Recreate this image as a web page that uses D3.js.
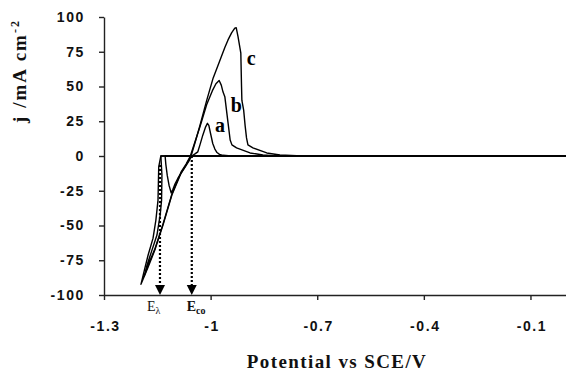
<!DOCTYPE html>
<html>
<head>
<meta charset="utf-8">
<script src="https://cdn.jsdelivr.net/npm/d3@7"></script>
<style>
  body { margin: 0; background: #fff; }
  .curve { fill: none; stroke: #000; stroke-width: 1.4px; stroke-linejoin: round; }
  .tick text { font-family: "Liberation Sans", Arial, sans-serif; font-weight: bold; font-size: 14px; letter-spacing: 1.6px; fill: #111; }
  .axis path, .axis line { stroke: #222; stroke-width: 1.4px; }
  .title { font-family: "Liberation Serif", "Times New Roman", serif; font-weight: bold; font-size: 19px; fill: #111; }
  .clabel { font-family: "Liberation Serif", "Times New Roman", serif; font-weight: bold; font-size: 20px; fill: #000; }
  .marker { font-family: "Liberation Serif", "Times New Roman", serif; font-size: 14px; fill: #111; }
</style>
</head>
<body>
<div id="chart"></div>
<script>
var margin = {top: 17, right: 0, bottom: 76, left: 104},
width = 566 - margin.left - margin.right,
height = 371 - margin.top - margin.bottom;

// cyclic voltammograms, [potential V, current density mA cm-2]
let curveA = [[0,0],[-1.128,0],[-1.126,-6],[-1.122,-14],[-1.117,-21],[-1.111,-26.5],[-1.106,-24],
  [-1.100,-20],[-1.092,-16],[-1.083,-12.3],[-1.072,-8],[-1.062,-4],[-1.053,0],[-1.044,1.5],[-1.036,3],
  [-1.030,8],[-1.022,15],[-1.014,21],[-1.009,23.5],[-1.005,22],[-1.000,16],[-0.994,9],[-0.988,5],
  [-0.982,2.5],[-0.975,1.2],[-0.965,0.5],[-0.95,0.2],[-0.93,0]]

let curveB = [[0,0],[-1.140,0],[-1.137,-13.7],[-1.138,-31.7],[-1.142,-42.5],[-1.151,-56.9],[-1.165,-67.7],
  [-1.179,-78.6],[-1.187,-86.5],[-1.176,-78.6],[-1.157,-67],[-1.134,-49],[-1.109,-27.4],[-1.083,-11.5],
  [-1.069,-5.8],[-1.057,0],[-1.043,11],[-1.030,21],[-1.011,37],[-0.995,47],[-0.985,52],[-0.976,54.3],
  [-0.970,51],[-0.965,46],[-0.960,42.7],[-0.952,26],[-0.945,11.5],[-0.940,8],[-0.927,5.8],[-0.889,2.2],
  [-0.853,0.7],[-0.824,0.2],[-0.80,0]]

let curveC = [[0,0],[-1.140,0],[-1.146,-7.9],[-1.148,-31.7],[-1.154,-46.1],[-1.162,-59.1],[-1.176,-71.4],
  [-1.185,-80.7],[-1.196,-92.3],[-1.176,-80],[-1.157,-67.7],[-1.134,-49.7],[-1.109,-28.1],[-1.083,-12.3],
  [-1.069,-6.5],[-1.055,0],[-1.041,12],[-1.030,22],[-1.011,40],[-0.993,56],[-0.975,68],[-0.960,78],
  [-0.951,83.5],[-0.941,88.6],[-0.932,92],[-0.928,92.3],[-0.923,86],[-0.915,74],[-0.913,50],[-0.912,40],
  [-0.907,33],[-0.903,22],[-0.899,13],[-0.895,8],[-0.881,5.8],[-0.842,2.2],[-0.805,0.7],[-0.758,0.2],[-0.74,0]]

let curveNames = ["a", "b", "c"]
let labelPotential = [-0.988, -0.943, -0.898]
let labelCurrent = [17.5, 31.7, 65.6]

let xTicks = [-1.3, -1, -0.7, -0.4, -0.1]
let xTickLabels = ["-1.3", "-1", "-0.7", "-0.4", "-0.1"]
let yTicks = [100, 75, 50, 25, 0, -25, -50, -75, -100]
let yTickLabels = ["100", "75", "50", "25", "0", "-25", "-50", "-75", "-100"]

// E_lambda and E_co markers: potential, top of the dotted line
let markerPotential = [-1.1425, -1.053]
let markerTop = [-6.5, 0]

var svg = d3.select("#chart")
  .append("svg")
    .attr("width", width + margin.left + margin.right)
    .attr("height", height + margin.top + margin.bottom)
  .append("g")
    .attr("transform", "translate(" + margin.left + "," + margin.top + ")");

var x = d3.scaleLinear()
  .domain([-1.3, 0])
  .range([0, width])

var y = d3.scaleLinear()
  .domain([-100, 100])
  .range([height, 0]);

var line = d3.line()
  .x(d => x(d[0]))
  .y(d => y(d[1]));

[curveA, curveB, curveC].forEach(function(c) {
  svg.append("path")
    .datum(c)
    .attr("class", "curve")
    .attr("d", line);
});

// curve labels
svg.selectAll(".clabel")
  .data(curveNames)
  .enter().append("text")
  .attr("class", "clabel")
  .attr("x", (d, i) => x(labelPotential[i]))
  .attr("y", (d, i) => y(labelCurrent[i]))
  .text(d => d);

// dotted marker lines with arrow heads
markerPotential.forEach(function(e, i) {
  svg.append("line")
    .attr("x1", x(e)).attr("x2", x(e))
    .attr("y1", y(markerTop[i])).attr("y2", y(-100) - 8)
    .attr("stroke", "#000")
    .attr("stroke-width", 2.2)
    .attr("stroke-dasharray", "2,2");
  svg.append("path")
    .attr("d", "M" + (x(e) - 5) + "," + (y(-100) - 10) + "L" + (x(e) + 5) + "," + (y(-100) - 10) +
      "L" + x(e) + "," + y(-100) + "Z")
    .attr("fill", "#000");
});

svg.append("g")
  .attr("class", "axis")
  .attr("transform", "translate(0," + height + ")")
  .call(d3.axisBottom(x).tickValues(xTicks).tickSize(5).tickSizeOuter(0)
    .tickFormat((d, i) => xTickLabels[i]))
  .call(g => g.selectAll(".tick text").attr("y", 26).attr("dy", "0.71em").attr("dx", 1));

svg.append("g")
  .attr("class", "axis")
  .call(d3.axisLeft(y).tickValues(yTicks).tickSize(5).tickSizeOuter(0)
    .tickFormat((d, i) => yTickLabels[i]))
  .call(g => g.selectAll(".tick text").attr("x", -19));

// marker labels
var el = svg.append("text").attr("class", "marker")
  .attr("x", x(markerPotential[0]) - 13).attr("y", height + 16);
el.append("tspan").text("E");
el.append("tspan").attr("font-size", "10px").attr("dy", 3).text("λ");

var ec = svg.append("text").attr("class", "marker").attr("font-weight", "bold")
  .attr("x", x(markerPotential[1]) - 5).attr("y", height + 16);
ec.append("tspan").text("E");
ec.append("tspan").attr("font-size", "10px").attr("dy", 3).text("co");

// axis titles
svg.append("text")
  .attr("class", "title")
  .attr("text-anchor", "middle")
  .attr("letter-spacing", "1.4px")
  .attr("x", 233)
  .attr("y", height + 73)
  .text("Potential vs SCE/V");

var yt = svg.append("text")
  .attr("class", "title")
  .attr("font-size", "20px")
  .attr("text-anchor", "middle")
  .attr("letter-spacing", "2px")
  .attr("transform", "translate(-78," + 54 + ") rotate(-90)");
yt.append("tspan").text("j /mA cm");
yt.append("tspan").attr("font-size", "12px").attr("dy", -7).text("-2");
</script>
</body>
</html>
